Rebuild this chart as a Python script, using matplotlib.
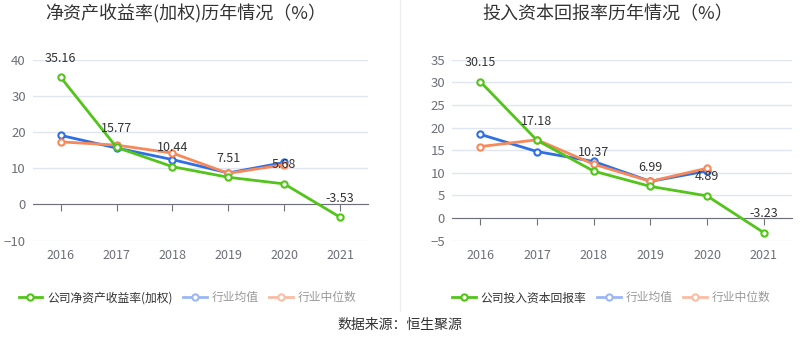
import matplotlib
matplotlib.use('Agg')
import matplotlib.pyplot as plt
from matplotlib.lines import Line2D

plt.rcParams['font.family'] = ['Noto Sans CJK SC', 'DejaVu Sans']

# data
years = ['2016', '2017', '2018', '2019', '2020', '2021']

roe_company = [35.16, 15.77, 10.44, 7.51, 5.68, -3.53]
roe_avg = [19.1, 15.6, 12.4, 8.7, 11.6]
roe_median = [17.3, 16.4, 14.2, 8.6, 11.0]

roic_company = [30.15, 17.18, 10.37, 6.99, 4.89, -3.23]
roic_avg = [18.5, 14.7, 12.5, 8.1, 10.4]
roic_median = [15.8, 17.3, 11.9, 8.1, 11.0]

green = '#52c41a'
blue = '#2f6fe4'
orange = '#f7885a'
blue_lt = '#9bb8f5'
orange_lt = '#fbbca3'

fig = plt.figure(figsize=(8, 3.58), dpi=100)


def draw(ax, company, avg, median, ylim, yticks, title, title_x, name, leg_x):
    x = list(range(len(years)))
    ax.set_xlim(-0.5, 5.5)
    ax.set_ylim(*ylim)
    ax.set_yticks(yticks)
    ax.yaxis.grid(True, color='#e0e6f1', lw=1)
    ax.set_axisbelow(True)
    for s in ['left', 'right', 'top']:
        ax.spines[s].set_visible(False)
    ax.spines['bottom'].set_position(('data', 0))
    ax.spines['bottom'].set_color('#6e7079')
    ax.set_xticks(x)
    ax.tick_params(axis='x', length=5, color='#6e7079', labelbottom=False)
    ax.tick_params(axis='y', length=0, labelsize=9.5, labelcolor='#6e7079', pad=5)

    sec = ax.secondary_xaxis('bottom')
    sec.set_xticks(x, years)
    sec.tick_params(length=0, labelsize=9, labelcolor='#6e7079', pad=6)
    sec.spines['bottom'].set_visible(False)

    mk = dict(marker='o', markersize=4.5, markerfacecolor='white', markeredgewidth=1.5, lw=2)
    ax.plot(x[:len(avg)], avg, color=blue, zorder=3, **mk)
    ax.plot(x[:len(median)], median, color=orange, zorder=3, **mk)
    ax.plot(x, company, color=green, zorder=4, **mk)
    for xi, v in zip(x, company):
        ax.annotate(f'{v:.2f}', (xi, v), xytext=(0, 9), textcoords='offset points',
                    ha='center', va='bottom', fontsize=9, color='#333333', zorder=5)

    fig.text(title_x, 0.96, title, ha='center', va='center', fontsize=13, color='#333333')

    handles = [
        Line2D([], [], color=green, **mk),
        Line2D([], [], color=blue_lt, **mk),
        Line2D([], [], color=orange_lt, **mk),
    ]
    leg = fig.legend(handles, [name, '行业均值', '行业中位数'], loc='center left',
                     bbox_to_anchor=(leg_x, 0.168), ncol=3, frameon=False, fontsize=8.5,
                     handlelength=2.0, handletextpad=0.4, columnspacing=0.9)
    cols = ['#333333', '#999999', '#999999']
    for t, c in zip(leg.get_texts(), cols):
        t.set_color(c)


ax1 = fig.add_axes([0.041, 0.328, 0.419, 0.505])
draw(ax1, roe_company, roe_avg, roe_median, (-10, 40), [-10, 0, 10, 20, 30, 40],
     '净资产收益率(加权)历年情况（%）', 0.232, '公司净资产收益率(加权)', 0.01)

ax2 = fig.add_axes([0.565, 0.328, 0.425, 0.505])
draw(ax2, roic_company, roic_avg, roic_median, (-5, 35), [-5, 0, 5, 10, 15, 20, 25, 30, 35],
     '投入资本回报率历年情况（%）', 0.76, '公司投入资本回报率', 0.552)

fig.add_artist(Line2D([0.5, 0.5], [0.13, 1.0], transform=fig.transFigure, color='#eeeeee', lw=1))
fig.text(0.5, 0.092, '数据来源：恒生聚源', ha='center', va='center', fontsize=10, color='#333333')

fig.savefig('out.png', dpi=100)
